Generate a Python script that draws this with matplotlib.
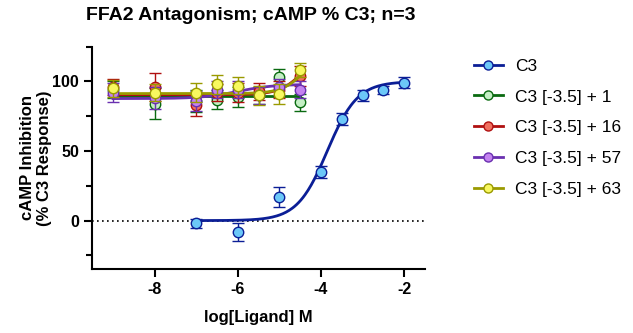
import matplotlib.pyplot as plt
import numpy as np

plt.rcParams['font.family'] = ['Liberation Sans', 'DejaVu Sans']
plt.rcParams['axes.unicode_minus'] = False

# agonist C3 alone
c3_x = [-7, -6, -5, -4, -3.5, -3, -2.5, -2]
c3_y = [-2, -8, 17, 35, 73, 90, 94, 99]
c3_err = [3, 6.5, 7.5, 4.5, 4, 4, 3, 4]

# C3 at [-3.5] + antagonists
ant_x = [-9, -8, -7, -6.5, -6, -5.5, -5, -4.5]
g_y = [94, 84, 86, 87, 89, 90, 103, 85]
g_err = [6, 11, 8, 7, 7, 6, 6, 6]
r_y = [96, 96, 83, 92, 92, 93, 94, 104]
r_err = [6, 10, 8, 6, 7, 6, 6, 7]
p_y = [92, 88, 86, 94, 94, 90, 96, 94]
p_err = [7, 8, 7, 6, 6, 6, 6, 6]
y_y = [95, 92, 92, 98, 97, 90, 91, 108]
y_err = [6, 6, 7, 7, 6, 7, 7, 5]

labels = ['C3', 'C3 [-3.5] + 1', 'C3 [-3.5] + 16', 'C3 [-3.5] + 57', 'C3 [-3.5] + 63']
line_cols = ['#0b1e96', '#0a6a10', '#b01010', '#6a30b0', '#9a9a00']
fill_cols = ['#6cc8f8', '#c4efc4', '#f07060', '#c482f0', '#f8f860']

# fitted 4PL parameters (bottom, top, logEC50, hill)
fits = [(0, 100, -3.85, 1.2),
        (89.5, 89.5, -5, 1),
        (90.5, 125, -4.4, 1.5),
        (87.7, 98, -6.0, 1.0),
        (91.3, 130, -4.3, 1.5)]


def four_pl(x, b, t, ec, h):
    return b + (t - b) / (1 + 10 ** ((ec - x) * h))


fig = plt.figure(figsize=(6.33, 3.33), dpi=100)
ax = fig.add_axes([0.1458, 0.1913, 0.5256, 0.6685])

ax.axhline(0, color='black', ls=(0, (1, 2)), lw=1.2, zorder=1)

series = [(c3_x, c3_y, c3_err), (ant_x, g_y, g_err), (ant_x, r_y, r_err),
          (ant_x, p_y, p_err), (ant_x, y_y, y_err)]
handles = []
for i, (xs, ys, es) in enumerate(series):
    xf = np.linspace(min(xs), max(xs), 200)
    ax.plot(xf, four_pl(xf, *fits[i]), color=line_cols[i], lw=2, zorder=2 + i)
    ax.errorbar(xs, ys, yerr=es, fmt='o', ms=7.5, mfc=fill_cols[i], mec=line_cols[i],
                mew=1, ecolor=line_cols[i], elinewidth=1, capsize=4, zorder=3 + i)
    h, = ax.plot([], [], color=line_cols[i], lw=2, marker='o', ms=6.5,
                 mfc=fill_cols[i], mec=line_cols[i], mew=1)
    handles.append(h)

ax.set_xlim(-9.5, -1.5)
ax.set_ylim(-35, 125)
ax.set_xticks([-8, -6, -4, -2])
ax.set_yticks([0, 50, 100])
ax.set_yticks([-25, 25, 75, 125], minor=True)
for s in ['top', 'right']:
    ax.spines[s].set_visible(False)
for s in ['left', 'bottom']:
    ax.spines[s].set_linewidth(1.5)
ax.tick_params(which='major', length=6, width=1.5, labelsize=11.5)
ax.tick_params(which='minor', length=4, width=1.5)
for lab in ax.get_xticklabels() + ax.get_yticklabels():
    lab.set_fontweight('bold')

ax.set_xlabel('log[Ligand] M', fontsize=12, fontweight='bold', labelpad=9)
ax.set_ylabel('cAMP Inhibition\n(% C3 Response)', fontsize=12, fontweight='bold',
              labelpad=0, linespacing=1.2)
fig.text(251 / 633, 1 - 15 / 333, 'FFA2 Antagonism; cAMP % C3; n=3',
         ha='center', va='center', fontsize=14, fontweight='bold')

fig.legend(handles, labels, loc='upper left', bbox_to_anchor=(458 / 633, 1 - 43 / 333),
           frameon=False, fontsize=12.5, handlelength=1.7, labelspacing=0.9,
           handletextpad=0.7)

fig.savefig('out.png', dpi=100)
